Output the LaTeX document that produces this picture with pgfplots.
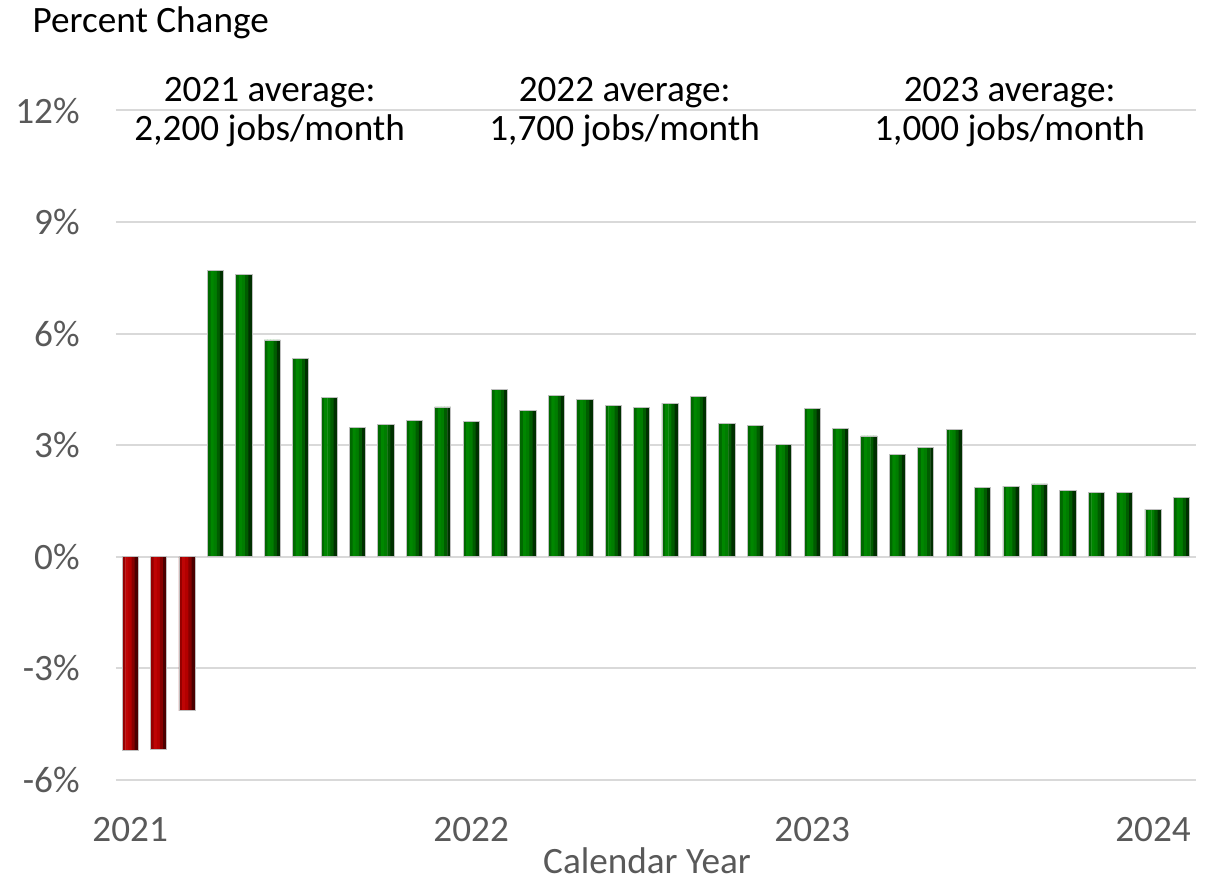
\documentclass[border=0pt]{standalone}
\usepackage{pgfplots}
\usepackage{pgfplotstable}
\pgfplotsset{compat=1.18}
\usepackage{fontspec}
\setmainfont{Carlito}

\definecolor{txtgray}{RGB}{89,89,89}
\definecolor{gridgray}{RGB}{217,217,217}
\newcommand\chfont{\fontsize{18.6}{22}\selectfont}

% month index (0 = Jan 2021), percent change
\pgfplotstableread{
m v
0 -5.20
1 -5.17
2 -4.14
}\redtab
\pgfplotstableread{
m v
3 7.70
4 7.60
5 5.83
6 5.33
7 4.28
8 3.49
9 3.55
10 3.66
11 4.03
12 3.65
13 4.51
14 3.93
15 4.35
16 4.23
17 4.07
18 4.02
19 4.13
20 4.32
21 3.58
22 3.53
23 3.02
24 4.00
25 3.46
26 3.25
27 2.76
28 2.93
29 3.42
30 1.86
31 1.90
32 1.96
33 1.79
34 1.73
35 1.73
36 1.28
37 1.59
}\greentab

% bars are drawn as five overlapping vertical stripes to fake the bevel shading
\pgfplotsset{
  stripe/.style 2 args={draw=none, bar width=0.126, bar shift=#1, fill=#2},
}

\begin{document}
\begin{tikzpicture}
\begin{axis}[
  name=ax, scale only axis,
  width=539.85pt, height=334.75pt,
  xmin=-0.5, xmax=37.5, ymin=-6, ymax=12,
  ybar,
  xtick={0,12,24,36}, xticklabels={2021,2022,2023,2024},
  ytick={-6,-3,0,3,6,9,12},
  yticklabels={-6\%,-3\%,0\%,3\%,6\%,9\%,12\%},
  ymajorgrids, grid style={gridgray, line width=1pt},
  axis line style={draw=none}, major tick length=0pt,
  tick label style={font=\chfont, text=txtgray, inner sep=0pt},
  yticklabel style={anchor=east, xshift=-18pt},
  xticklabel style={anchor=north, yshift=-18.3pt},
  clip=false,
]
% Jan-Mar 2021 (declines)
\addplot[stripe={-0.222}{{rgb,255:red,150;green,0;blue,0}}] table[x=m,y=v] {\redtab};
\addplot[stripe={-0.111}{{rgb,255:red,190;green,5;blue,5}}] table[x=m,y=v] {\redtab};
\addplot[stripe={0}{{rgb,255:red,180;green,0;blue,0}}] table[x=m,y=v] {\redtab};
\addplot[stripe={0.111}{{rgb,255:red,135;green,0;blue,0}}] table[x=m,y=v] {\redtab};
\addplot[stripe={0.222}{{rgb,255:red,75;green,0;blue,0}}] table[x=m,y=v] {\redtab};
\addplot[draw=gray!50, fill=none, line width=0.4pt, bar width=0.57, bar shift=0pt] table[x=m,y=v] {\redtab};
% Apr 2021 - Feb 2024
\addplot[stripe={-0.222}{{rgb,255:red,0;green,105;blue,0}}] table[x=m,y=v] {\greentab};
\addplot[stripe={-0.111}{{rgb,255:red,0;green,135;blue,0}}] table[x=m,y=v] {\greentab};
\addplot[stripe={0}{{rgb,255:red,0;green,125;blue,0}}] table[x=m,y=v] {\greentab};
\addplot[stripe={0.111}{{rgb,255:red,0;green,92;blue,0}}] table[x=m,y=v] {\greentab};
\addplot[stripe={0.222}{{rgb,255:red,0;green,48;blue,0}}] table[x=m,y=v] {\greentab};
\addplot[draw=gray!50, fill=none, line width=0.4pt, bar width=0.57, bar shift=0pt] table[x=m,y=v] {\greentab};

\node[anchor=base west, inner sep=0pt, font=\chfont] at (axis cs:-3.45,14.11) {Percent Change};
\node[anchor=base, inner sep=0pt, font=\chfont] at (axis cs:4.91,12.23) {2021 average:};
\node[anchor=base, inner sep=0pt, font=\chfont] at (axis cs:4.91,11.20) {2,200 jobs/month};
\node[anchor=base, inner sep=0pt, font=\chfont] at (axis cs:17.40,12.23) {2022 average:};
\node[anchor=base, inner sep=0pt, font=\chfont] at (axis cs:17.40,11.20) {1,700 jobs/month};
\node[anchor=base, inner sep=0pt, font=\chfont] at (axis cs:30.95,12.23) {2023 average:};
\node[anchor=base, inner sep=0pt, font=\chfont] at (axis cs:30.95,11.20) {1,000 jobs/month};
\node[anchor=base, inner sep=0pt, font=\chfont, text=txtgray] at (axis cs:18.19,-8.52) {Calendar Year};
\end{axis}
\pgfresetboundingbox
\path ([shift={(-58pt,-51.5pt)}]ax.south west) rectangle ([shift={(6.65pt,55.25pt)}]ax.north east);
\end{tikzpicture}
\end{document}
